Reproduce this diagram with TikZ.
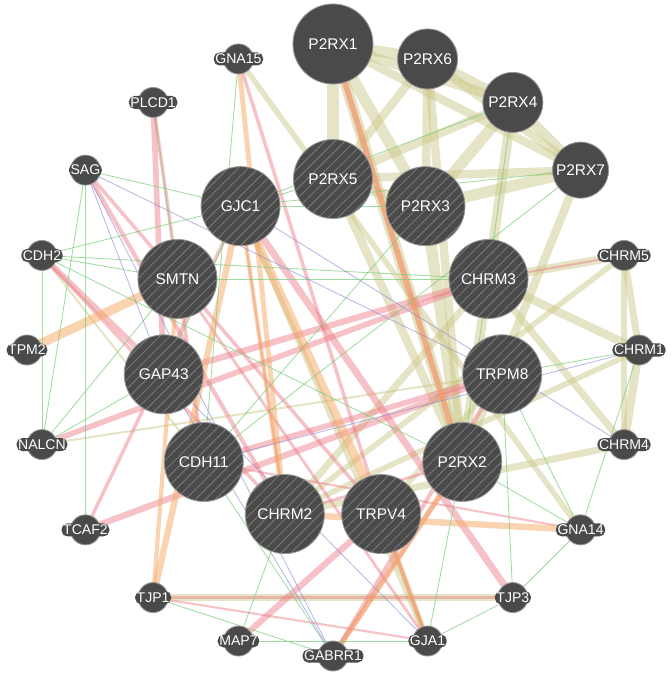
\documentclass[tikz,border=0pt]{standalone}
\usepackage{fontspec}
\setmainfont{Liberation Sans}
\usetikzlibrary{patterns.meta,backgrounds}

\definecolor{nodegray}{RGB}{74,74,74}
\definecolor{rimgray}{RGB}{150,150,150}
\definecolor{hatchgray}{RGB}{118,118,118}
\definecolor{domcol}{RGB}{200,196,130}
\definecolor{physcol}{RGB}{236,120,130}
\definecolor{predcol}{RGB}{245,168,100}
\definecolor{gencol}{RGB}{120,205,120}
\definecolor{coexcol}{RGB}{140,135,210}

\begin{document}
\begin{tikzpicture}[x=0.025cm,y=0.025cm,
    gene/.style={circle,draw=rimgray,line width=0.6pt,text=white,inner sep=0pt},
    hub/.style={gene,fill=nodegray,font=\fontsize{11}{13}\selectfont},
    query/.style={gene,minimum size=1.975cm,font=\fontsize{11}{13}\selectfont,
        preaction={fill=nodegray},
        pattern={Lines[angle=45,distance=5pt,line width=0.7pt]},pattern color=hatchgray},
    tag/.style={fill=nodegray,text=white,rounded corners=4pt,inner sep=1.1pt,
        font=\fontsize{10}{12}\selectfont},
    hit/.style={gene,fill=nodegray,minimum size=0.75cm,label={[tag]center:#1}},
    dom/.style={draw=domcol,draw opacity=.45,line width=#1},
    phys/.style={draw=physcol,draw opacity=.45,line width=#1},
    pred/.style={draw=predcol,draw opacity=.5,line width=#1},
    gen/.style={draw=gencol,draw opacity=.7,line width=0.6pt},
    coex/.style={draw=coexcol,draw opacity=.6,line width=0.6pt}]

\useasboundingbox (-333,-325) rectangle (338,350);

% outer ring
\node[hub,minimum size=2cm] (p2rx1) at (90:306) {P2RX1};
\node[hub,minimum size=1.5cm] (p2rx6) at (72:306) {P2RX6};
\node[hub,minimum size=1.5cm] (p2rx4) at (54:306) {P2RX4};
\node[hub,minimum size=1.4cm] (p2rx7) at (36:306) {P2RX7};
\node[hit=CHRM5] (chrm5) at (18:306) {};
\node[hit=CHRM1] (chrm1) at (0:306) {};
\node[hit=CHRM4] (chrm4) at (-18:306) {};
\node[hit=GNA14] (gna14) at (-36:306) {};
\node[hit=TJP3] (tjp3) at (-54:306) {};
\node[hit=GJA1] (gja1) at (-72:306) {};
\node[hit=GABRR1] (gabrr1) at (-90:306) {};
\node[hit=MAP7] (map7) at (-108:306) {};
\node[hit=TJP1] (tjp1) at (-126:306) {};
\node[hit=TCAF2] (tcaf2) at (-144:306) {};
\node[hit=NALCN] (nalcn) at (-162:306) {};
\node[hit=TPM2] (tpm2) at (180:306) {};
\node[hit=CDH2] (cdh2) at (162:306) {};
\node[hit=SAG] (sag) at (144:306) {};
\node[hit=PLCD1] (plcd1) at (126:306) {};
\node[hit=GNA15] (gna15) at (108:306) {};

% query genes
\node[query] (p2rx5) at (90:171) {P2RX5};
\node[query] (p2rx3) at (57.27:171) {P2RX3};
\node[query] (chrm3) at (24.55:171) {CHRM3};
\node[query] (trpm8) at (-8.18:171) {TRPM8};
\node[query] (p2rx2) at (-40.9:171) {P2RX2};
\node[query] (trpv4) at (-73.64:171) {TRPV4};
\node[query] (chrm2) at (-106.36:171) {CHRM2};
\node[query] (cdh11) at (-139.1:171) {CDH11};
\node[query] (gap43) at (-171.82:171) {GAP43};
\node[query] (smtn) at (155.45:171) {SMTN};
\node[query] (gjc1) at (122.73:171) {GJC1};

\begin{pgfonlayer}{background}
% shared protein domains
\foreach \a/\b/\w in {p2rx1/p2rx6/8pt,p2rx1/p2rx4/7pt,p2rx1/p2rx7/6pt,p2rx1/p2rx5/8pt,
    p2rx1/p2rx3/8pt,p2rx1/p2rx2/8pt,p2rx6/p2rx4/7pt,p2rx6/p2rx7/6pt,p2rx6/p2rx5/6pt,
    p2rx6/p2rx3/6pt,p2rx6/p2rx2/6pt,p2rx4/p2rx7/7pt,p2rx4/p2rx5/6pt,p2rx4/p2rx3/8pt,
    p2rx4/p2rx2/7pt,p2rx7/p2rx5/6pt,p2rx7/p2rx3/8pt,p2rx7/p2rx2/6pt,p2rx5/p2rx3/7pt,
    p2rx5/p2rx2/6pt,p2rx3/p2rx2/8pt,
    chrm3/chrm5/6pt,chrm3/chrm1/6pt,chrm3/chrm4/5pt,chrm3/chrm2/5pt,chrm5/chrm1/5pt,
    chrm5/chrm4/4pt,chrm1/chrm4/6pt,chrm2/chrm5/4pt,chrm2/chrm1/4pt,chrm2/chrm4/5pt,
    gna15/gna14/4pt,tjp1/tjp3/5pt,gjc1/gja1/4pt,trpm8/trpv4/4pt,
    cdh2/cdh11/1.5pt,nalcn/trpm8/1.5pt,trpv4/gja1/3pt}
  \draw[dom=\w] (\a.center) -- (\b.center);
% physical interactions
\foreach \a/\b/\w in {p2rx1/p2rx2/4pt,plcd1/gap43/4pt,plcd1/cdh11/2.5pt,cdh2/gap43/4pt,
    cdh2/chrm2/2.5pt,sag/chrm2/3pt,sag/trpv4/2.5pt,nalcn/chrm3/4pt,tcaf2/trpm8/4.5pt,
    tjp1/tjp3/2pt,tjp1/gja1/1.5pt,map7/trpv4/4.5pt,gabrr1/trpm8/3pt,gabrr1/p2rx2/3pt,
    tjp3/gjc1/5pt,gna14/cdh11/1.5pt,gna15/trpv4/2.5pt,gjc1/chrm2/1.5pt,gjc1/tcaf2/2.5pt,
    gap43/chrm3/4.5pt,cdh11/trpm8/4pt,chrm3/chrm5/1.5pt,smtn/gja1/2pt,p2rx2/chrm2/2pt,
    trpv4/gja1/2pt}
  \draw[phys=\w] (\a.center) -- (\b.center);
% predicted
\foreach \a/\b/\w in {tpm2/smtn/6.5pt,gjc1/tjp1/4.5pt,gjc1/trpv4/6pt,gjc1/chrm2/3pt,
    gna15/chrm2/3.5pt,gna14/chrm2/4.5pt,gabrr1/p2rx2/4pt,p2rx1/p2rx2/4pt,
    gja1/trpv4/3.5pt,tjp1/smtn/3pt}
  \draw[pred=\w] (\a.center) -- (\b.center);
% genetic interactions
\foreach \a/\b in {plcd1/smtn,sag/gjc1,sag/nalcn,sag/tcaf2,cdh2/gjc1,cdh2/chrm3,
    cdh2/nalcn,cdh2/p2rx2,cdh2/smtn,nalcn/gap43,nalcn/smtn,gna15/cdh11,tjp1/gabrr1,
    map7/chrm2,gja1/p2rx2,gja1/tjp3,tjp3/gna14,gna14/trpm8,gna14/p2rx2,gna14/chrm1,
    chrm1/trpm8,p2rx7/gjc1,p2rx7/cdh11,p2rx4/p2rx2,p2rx4/gjc1,cdh11/p2rx3,smtn/chrm3,
    gjc1/p2rx3,gjc1/p2rx5,gjc1/gap43,map7/gja1,gabrr1/cdh11,trpm8/tjp3}
  \draw[gen] (\a.center) -- (\b.center);
% co-expression
\foreach \a/\b in {sag/trpm8,sag/gabrr1,sag/gap43,gabrr1/gap43,gja1/gap43,
    chrm4/gjc1,chrm1/cdh11}
  \draw[coex] (\a.center) -- (\b.center);
\end{pgfonlayer}

\end{tikzpicture}
\end{document}
